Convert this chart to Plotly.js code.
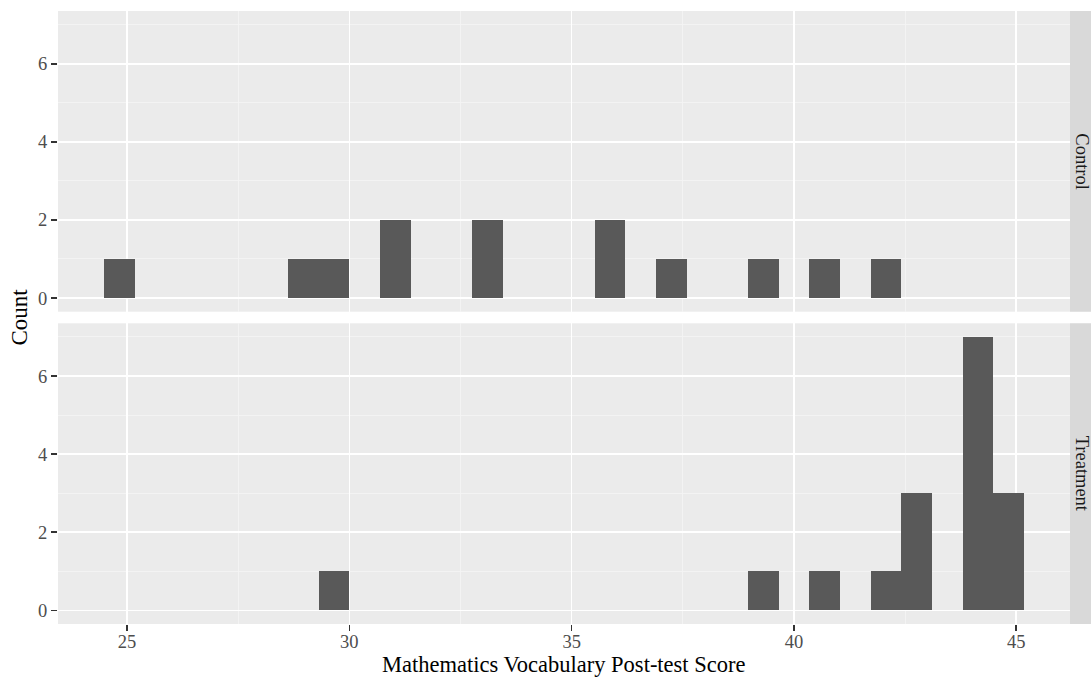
<!DOCTYPE html>
<html>
<head>
<meta charset="utf-8">
<script src="https://cdn.plot.ly/plotly-3.0.1.min.js"></script>
<style>html,body{margin:0;padding:0;background:#fff;}#chart{width:1091px;height:677px;}</style>
</head>
<body>
<div id="chart"></div>
<script>
// Histogram bins (30 bins)
const binStart = 24.483;
const binWidth = 0.6897;
const panelNames = ["Control", "Treatment"];
const controlCounts   = [1,0,0,0,0,0,1,1,0,2,0,0,2,0,0,0,2,0,1,0,0,1,0,1,0,1,0,0,0,0];
const treatmentCounts = [0,0,0,0,0,0,0,1,0,0,0,0,0,0,0,0,0,0,0,0,0,1,0,1,0,1,3,0,7,3];
const xTickVals = [25, 30, 35, 40, 45];
const yTickVals = [0, 2, 4, 6];
const xTitle = "Mathematics Vocabulary Post-test Score";
const yTitle = "Count";

const centers = controlCounts.map((_, i) => binStart + (i + 0.5) * binWidth);
const font = "Liberation Serif, Times New Roman, serif";
const barColor = "#595959";

function barTrace(counts, xa, ya) {
  return {
    type: "bar", x: centers, y: counts, width: binWidth,
    xaxis: xa, yaxis: ya,
    marker: {color: barColor, line: {width: 0}},
    hoverinfo: "x+y", showlegend: false
  };
}

const data = [barTrace(controlCounts, "x", "y"), barTrace(treatmentCounts, "x2", "y2")];

const nBins = controlCounts.length;
const dataMin = binStart, dataMax = binStart + nBins * binWidth;
const pad = (dataMax - dataMin) * 0.05;
const xRange = [dataMin - pad, dataMax + pad];
const yMax = 7;
const yRange = [-yMax * 0.05, yMax * 1.05];

function xAxis(showTicks) {
  return {
    range: xRange, tickvals: xTickVals, ticktext: xTickVals.map(String),
    showticklabels: showTicks, ticks: showTicks ? "outside" : "",
    ticklen: 6, tickwidth: 1.6, tickcolor: "#333333",
    ticklabelstandoff: -5,
    tickfont: {family: font, size: 18.5, color: "#4D4D4D"},
    showgrid: true, gridcolor: "#FFFFFF", gridwidth: 1.6,
    minor: {dtick: 2.5, tick0: 0, showgrid: true, gridcolor: "#F4F4F4", gridwidth: 0.9, ticks: ""},
    zeroline: false, showline: false, fixedrange: true
  };
}
function yAxis(domain, anchor) {
  return {
    domain: domain, anchor: anchor, range: yRange, tickvals: yTickVals,
    ticks: "outside", ticklen: 6, tickwidth: 1.6, tickcolor: "#333333",
    tickfont: {family: font, size: 18.5, color: "#4D4D4D"},
    showgrid: true, gridcolor: "#FFFFFF", gridwidth: 1.6,
    minor: {dtick: 1, tick0: 0, showgrid: true, gridcolor: "#F4F4F4", gridwidth: 0.9, ticks: ""},
    zeroline: false, showline: false, fixedrange: true
  };
}

const W = 1091, H = 677;
const mL = 58, mR = 21, mT = 11, mB = 53;
const plotW = W - mL - mR, plotH = H - mT - mB;
const gapPx = 11.6;
const d1 = [(plotH / 2 + gapPx / 2) / plotH, 1];
const d2 = [0, (plotH / 2 - gapPx / 2) / plotH];

const stripX1 = (W - mL) / plotW;
const shapes = [];
const annotations = [];
[d1, d2].forEach((d, i) => {
  shapes.push({type: "rect", xref: "paper", yref: "paper", x0: 1, x1: stripX1 + 0.01, y0: d[0], y1: d[1],
    fillcolor: "#D9D9D9", line: {width: 0}, layer: "below"});
  annotations.push({xref: "paper", yref: "paper", x: (1082 - mL) / plotW, y: (d[0] + d[1]) / 2,
    text: panelNames[i], showarrow: false, textangle: 90,
    font: {family: font, size: 18.5, color: "#1A1A1A"}, xanchor: "center", yanchor: "middle"});
});
annotations.push({xref: "paper", yref: "paper", x: (563 - mL) / plotW, y: 0, yshift: -40,
  text: xTitle, showarrow: false, font: {family: font, size: 22.5, color: "#000000"},
  xanchor: "center", yanchor: "middle"});
annotations.push({xref: "paper", yref: "paper", x: (19 - mL) / plotW, y: 0.5,
  text: yTitle, showarrow: false, textangle: -90, font: {family: font, size: 23, color: "#000000"},
  xanchor: "center", yanchor: "middle"});

const layout = {
  width: W, height: H,
  margin: {l: mL, r: mR, t: mT, b: mB, pad: 0},
  paper_bgcolor: "#FFFFFF", plot_bgcolor: "#EBEBEB",
  bargap: 0,
  xaxis: Object.assign(xAxis(false), {anchor: "y"}),
  yaxis: yAxis(d1, "x"),
  xaxis2: Object.assign(xAxis(true), {anchor: "y2", matches: "x"}),
  yaxis2: yAxis(d2, "x2"),
  shapes: shapes, annotations: annotations,
  showlegend: false
};

Plotly.newPlot("chart", data, layout, {displayModeBar: false, staticPlot: true});
</script>
</body>
</html>
